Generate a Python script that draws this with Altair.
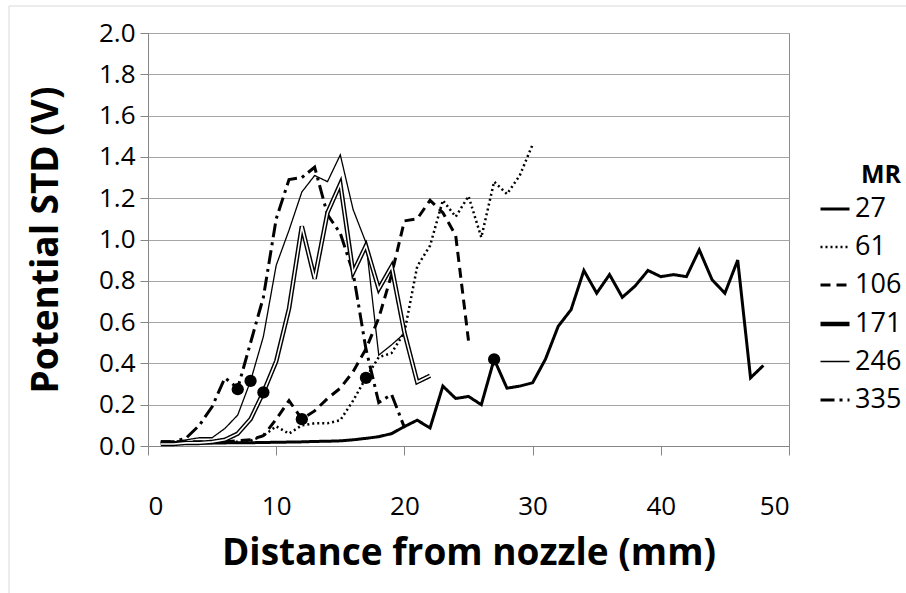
import altair as alt
import pandas as pd

FONT = "Open Sans"

# ---- data ----
MR_LABELS = ["27", "61", "106", "171", "246", "335"]

mr27_std = [0.012, 0.012, 0.013, 0.014, 0.015, 0.015, 0.016, 0.016, 0.017, 0.018,
            0.019, 0.020, 0.022, 0.023, 0.025, 0.030, 0.037, 0.045, 0.060, 0.094,
            0.125, 0.087, 0.29, 0.23, 0.24, 0.20, 0.42, 0.28, 0.29, 0.306,
            0.42, 0.58, 0.66, 0.85, 0.74, 0.83, 0.72, 0.775, 0.85, 0.82,
            0.83, 0.82, 0.95, 0.805, 0.74, 0.90, 0.33, 0.39]
mr61_std = [0.015, 0.015, 0.015, 0.015, 0.015, 0.02, 0.02, 0.025, 0.05, 0.095,
            0.06, 0.10, 0.11, 0.11, 0.125, 0.22, 0.33, 0.43, 0.45, 0.55,
            0.87, 0.97, 1.19, 1.11, 1.21, 1.01, 1.28, 1.22, 1.31, 1.46]
mr106_std = [0.02, 0.02, 0.02, 0.02, 0.02, 0.02, 0.025, 0.03, 0.05, 0.13,
             0.22, 0.13, 0.17, 0.23, 0.28, 0.36, 0.47, 0.62, 0.83, 1.09,
             1.10, 1.19, 1.13, 1.02, 0.51]
mr171_std = [0.01, 0.01, 0.015, 0.015, 0.02, 0.03, 0.06, 0.13, 0.26, 0.41,
             0.665, 1.064, 0.81, 1.13, 1.27, 0.84, 0.97, 0.76, 0.87, 0.55,
             0.31, 0.34]
mr246_std = [0.02, 0.02, 0.03, 0.04, 0.04, 0.085, 0.15, 0.315, 0.53, 0.875,
             1.045, 1.23, 1.31, 1.28, 1.41, 1.145, 0.985, 0.44, 0.49, 0.545]
mr335_std = [0.02, 0.02, 0.04, 0.10, 0.19, 0.33, 0.28, 0.50, 0.72, 1.10,
             1.29, 1.30, 1.35, 1.12, 1.03, 0.84, 0.47, 0.21, 0.25, 0.09]

onset_mr = ["27", "61", "106", "171", "246", "335"]
onset_dist = [27, 17, 12, 9, 8, 7]
onset_std = [0.42, 0.33, 0.13, 0.26, 0.315, 0.275]

x_ticks = [0, 10, 20, 30, 40, 50]
y_ticks = [0.0, 0.2, 0.4, 0.6, 0.8, 1.0, 1.2, 1.4, 1.6, 1.8, 2.0]

# ---- tables ----
series = dict(zip(MR_LABELS, [mr27_std, mr61_std, mr106_std, mr171_std, mr246_std, mr335_std]))
rows = []
for mr, ys in series.items():
    for i, v in enumerate(ys):
        rows.append({"MR": mr, "dist": i + 1, "std": v})
lines_df = pd.DataFrame(rows)
onset_df = pd.DataFrame({"MR": onset_mr, "dist": onset_dist, "std": onset_std})

x_enc = alt.X("dist:Q",
              scale=alt.Scale(domain=[0, 50], nice=False, zero=False),
              axis=alt.Axis(values=x_ticks, title="Distance from nozzle (mm)", grid=False,
                            tickSize=9, labelPadding=38, titlePadding=16, format="d"))
y_enc = alt.Y("std:Q",
              scale=alt.Scale(domain=[0, 2], nice=False),
              axis=alt.Axis(values=y_ticks, title="Potential STD (V)", grid=True,
                            gridColor="#a6a6a6", tickSize=8, labelPadding=5,
                            titlePadding=33, format=".1f"))

dash_scale = alt.Scale(type="ordinal", domain=MR_LABELS,
                       range=[[1, 0], [2, 3], [10, 6], [1, 0], [1, 0], [14, 5, 3, 5]])
width_scale = alt.Scale(type="ordinal", domain=MR_LABELS,
                        range=[3, 2.5, 3, 4.5, 1.3, 3])

legend = alt.Legend(title="MR", orient="none", legendX=670, legendY=130,
                    symbolType="stroke", symbolSize=841, symbolStrokeColor="black",
                    labelFont=FONT, labelFontSize=27, labelColor="black",
                    titleFont=FONT, titleFontSize=25, titleFontWeight="bold",
                    titleColor="black", titleAnchor="end", titlePadding=5,
                    rowPadding=9, labelOffset=3, padding=0)

lines = alt.Chart(lines_df).mark_line(color="black", strokeCap="butt").encode(
    x=x_enc, y=y_enc,
    strokeDash=alt.StrokeDash("MR:O", scale=dash_scale, sort=MR_LABELS, legend=legend),
    strokeWidth=alt.StrokeWidth("MR:O", scale=width_scale, sort=MR_LABELS, legend=legend),
)

inner171 = alt.Chart(lines_df).transform_filter(alt.datum.MR == "171").mark_line(
    color="white", strokeWidth=1.6).encode(x=x_enc, y=y_enc)

markers = alt.Chart(onset_df).mark_circle(size=150, color="black", opacity=1).encode(
    x=x_enc, y=y_enc)

frame = alt.Chart(alt.Data(values=[{"k": 1}])).mark_rect(
    fillOpacity=0, stroke="#d9d9d9", strokeWidth=1).encode(
    x=alt.value(-139), x2=alt.value(1000), y=alt.value(-27), y2=alt.value(800))

chart = alt.layer(frame, lines, inner171, markers).properties(
    width=641, height=413,
    autosize=alt.AutoSizeParams(type="none"),
    padding={"left": 148, "top": 33, "right": 117, "bottom": 147},
    background="white",
).configure_view(stroke="#8c8c8c", strokeWidth=1).configure_axis(
    labelFont=FONT, titleFont=FONT, labelColor="black", titleColor="black",
    labelFontSize=26, titleFontSize=37, titleFontWeight="bold",
    domainColor="#868686", tickColor="#868686",
)

chart.save("out.html", embed_options={"renderer": "svg", "actions": False})
